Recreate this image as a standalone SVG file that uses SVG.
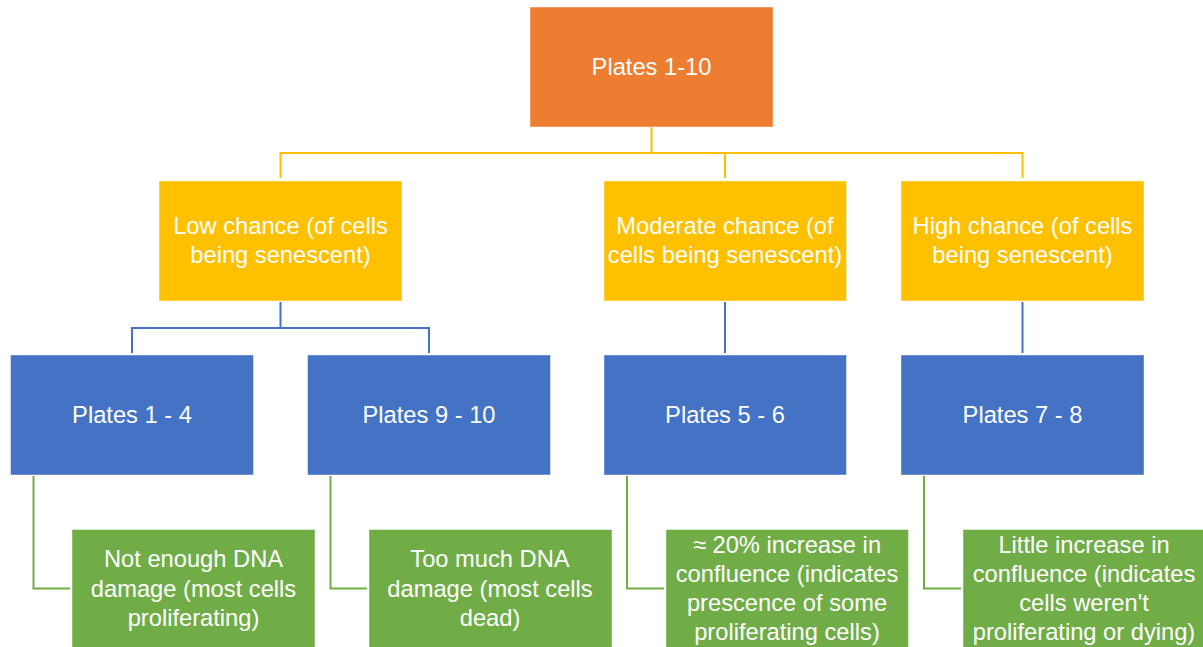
<svg xmlns="http://www.w3.org/2000/svg" width="1203" height="647" viewBox="0 0 1203 647">
<style>
.box{stroke:#ffffff;stroke-opacity:0.45;stroke-width:1}
.o{fill:#ED7D31}.y{fill:#FFC000}.b{fill:#4472C4}.g{fill:#70AD47}
text{font-family:"Liberation Sans",Arial,sans-serif;font-size:23.7px;fill:#ffffff;text-anchor:middle}
.cy{stroke:#FFC000}.cb{stroke:#4472C4}.cg{stroke:#70AD47}
#connectors path{fill:none;stroke-width:2}
</style>
<rect width="1203" height="647" fill="#ffffff"/>
<g id="connectors">
<path class="cy" d="M651.5,127 V153 M280.5,178 V153 H1022.5 V178 M725,153 V178"/>
<path class="cb" d="M280.5,302 V328 M132,353 V328 H429 V353 M725,302 V353 M1022.5,302 V353"/>
<path class="cg" d="M33.5,476 V588.5 H70 M330.5,476 V588.5 H367 M627,476 V588.5 H664 M924,476 V588.5 H961"/>
</g>
<g id="n-root"><rect class="box o" x="530" y="7" width="243" height="120"/><text x="651.5" y="75">Plates 1-10</text></g>
<g id="n-low"><rect class="box y" x="159" y="181" width="243" height="120"/><text x="280.5" y="234">Low chance (of cells</text><text x="280.5" y="263">being senescent)</text></g>
<g id="n-moderate"><rect class="box y" x="604" y="181" width="242.5" height="120"/><text x="725" y="234">Moderate chance (of</text><text x="725" y="263">cells being senescent)</text></g>
<g id="n-high"><rect class="box y" x="901" y="181" width="243" height="120"/><text x="1022.5" y="234">High chance (of cells</text><text x="1022.5" y="263">being senescent)</text></g>
<g id="n-p14"><rect class="box b" x="10.5" y="355" width="243" height="120"/><text x="132" y="423">Plates 1 - 4</text></g>
<g id="n-p910"><rect class="box b" x="307.5" y="355" width="243" height="120"/><text x="429" y="423">Plates 9 - 10</text></g>
<g id="n-p56"><rect class="box b" x="604" y="355" width="242.5" height="120"/><text x="725" y="423">Plates 5 - 6</text></g>
<g id="n-p78"><rect class="box b" x="901" y="355" width="243" height="120"/><text x="1022.5" y="423">Plates 7 - 8</text></g>
<g id="n-g1"><rect class="box g" x="72" y="529.5" width="243" height="120"/><text x="193.5" y="567">Not enough DNA</text><text x="193.5" y="596.5">damage (most cells</text><text x="193.5" y="625.5">proliferating)</text></g>
<g id="n-g2"><rect class="box g" x="369" y="529.5" width="243" height="120"/><text x="490" y="567">Too much DNA</text><text x="490" y="596.5">damage (most cells</text><text x="490" y="625.5">dead)</text></g>
<g id="n-g3"><rect class="box g" x="666" y="529.5" width="242.5" height="120"/><text x="787" y="552.5">≈ 20% increase in</text><text x="787" y="581.5">confluence (indicates</text><text x="787" y="611">prescence of some</text><text x="787" y="640">proliferating cells)</text></g>
<g id="n-g4"><rect class="box g" x="963" y="529.5" width="243" height="120"/><text x="1084" y="552.5">Little increase in</text><text x="1084" y="581.5">confluence (indicates</text><text x="1084" y="611">cells weren't</text><text x="1084" y="640">proliferating or dying)</text></g>
</svg>
